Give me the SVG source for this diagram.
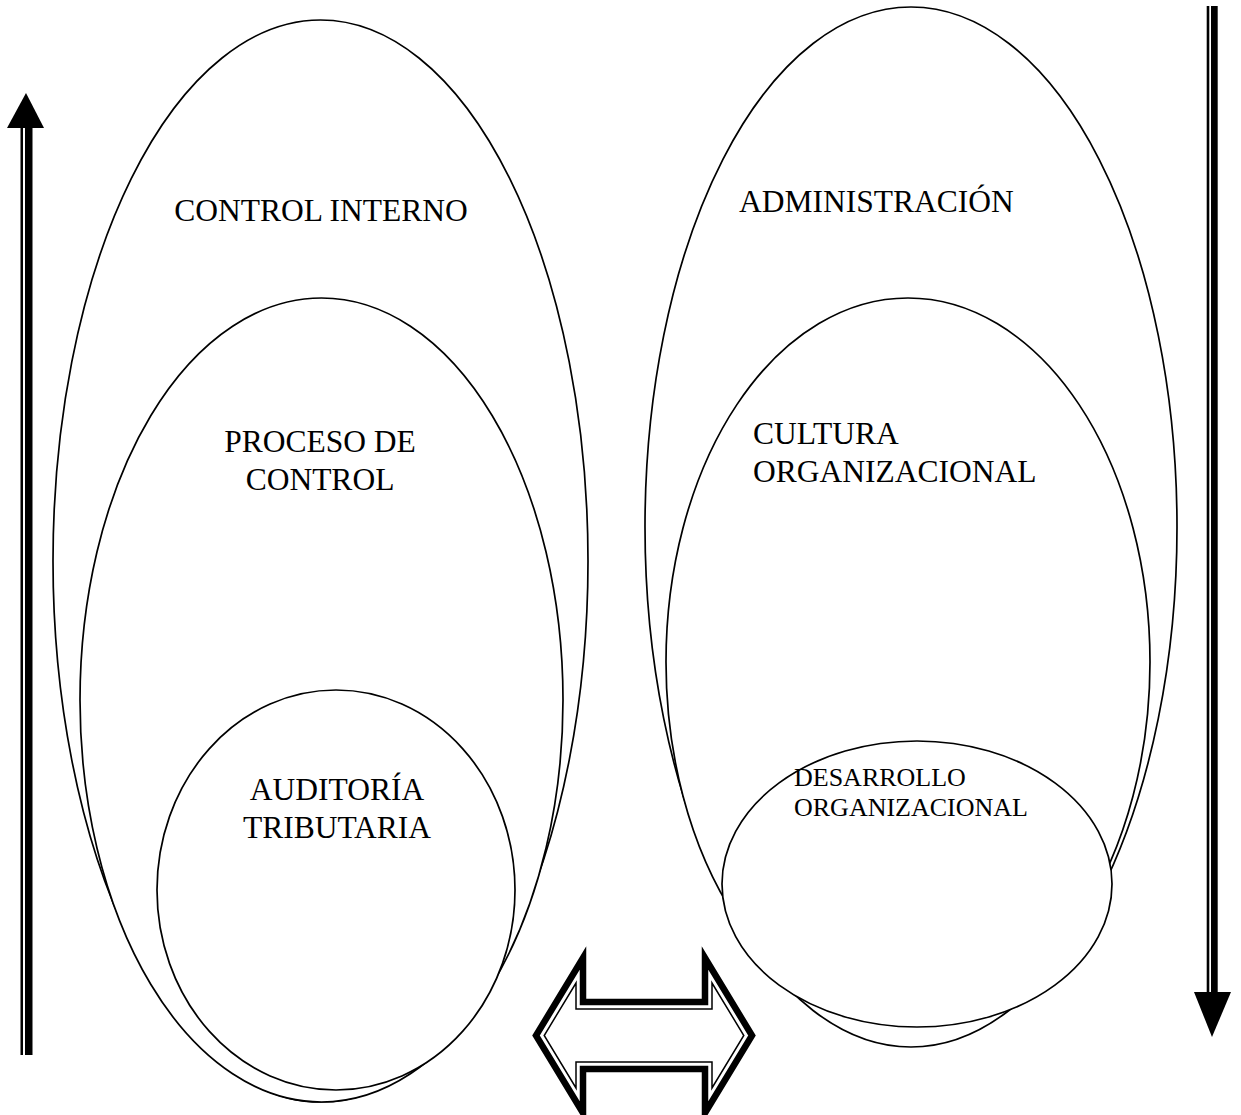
<svg xmlns="http://www.w3.org/2000/svg" width="1241" height="1115" viewBox="0 0 1241 1115">
  <style>
    .shape { fill: #fff; stroke: #000; stroke-width: 1.7; }
    .label { font-family: "Liberation Serif", "Times New Roman", serif; font-size: 31.5px; fill: #000; }
    .small { font-size: 26px; }
    .arrow { fill: #000; }
    .band { fill: none; stroke: #000; stroke-width: 6.5; stroke-linejoin: miter; stroke-miterlimit: 6; }
    .line { fill: none; stroke: #000; stroke-width: 1.5; stroke-linejoin: miter; stroke-miterlimit: 6; }
  </style>
  <rect width="1241" height="1115" fill="#fff"/>

  <!-- left stack: each shape is filled so it hides the outline beneath it -->
  <g id="control-interno">
    <ellipse class="shape" cx="320.5" cy="561" rx="267.5" ry="541"/>
    <text class="label" x="321" y="221" text-anchor="middle">CONTROL INTERNO</text>
  </g>
  <g id="proceso-de-control">
    <ellipse class="shape" cx="321.5" cy="700" rx="241.5" ry="402"/>
    <text class="label" x="320" y="452" text-anchor="middle">PROCESO DE</text>
    <text class="label" x="320" y="490" text-anchor="middle">CONTROL</text>
  </g>
  <g id="auditoria-tributaria">
    <ellipse class="shape" cx="336" cy="890" rx="179" ry="200"/>
    <text class="label" x="337" y="800" text-anchor="middle">AUDITORÍA</text>
    <text class="label" x="337" y="838" text-anchor="middle">TRIBUTARIA</text>
  </g>

  <!-- right stack -->
  <g id="administracion">
    <ellipse class="shape" cx="911" cy="527" rx="266" ry="520"/>
    <text class="label" x="739" y="212">ADMINISTRACIÓN</text>
  </g>
  <g id="cultura-organizacional">
    <ellipse class="shape" cx="908" cy="662" rx="242" ry="364"/>
    <text class="label" x="753" y="444">CULTURA</text>
    <text class="label" x="753" y="482">ORGANIZACIONAL</text>
  </g>
  <g id="desarrollo-organizacional">
    <ellipse class="shape" cx="917" cy="884" rx="195" ry="143"/>
    <text class="label small" x="794" y="786">DESARROLLO</text>
    <text class="label small" x="794" y="816">ORGANIZACIONAL</text>
  </g>

  <!-- connectors -->
  <g id="connectors">
    <!-- upward arrow, left margin -->
    <g id="arrow-up">
      <rect class="arrow" x="20.5" y="126" width="2.5" height="929"/>
      <rect class="arrow" x="25" y="126" width="7.5" height="929"/>
      <polygon class="arrow" points="7,128 26,93 44,128"/>
    </g>
    <!-- downward arrow, right margin -->
    <g id="arrow-down">
      <rect class="arrow" x="1206.7" y="6" width="2.6" height="988"/>
      <rect class="arrow" x="1211" y="6" width="6.7" height="988"/>
      <polygon class="arrow" points="1194,992 1231,992 1212,1037"/>
    </g>
    <!-- two-way outlined arrow between the stacks -->
    <g id="arrow-both">
      <polygon class="band" points="583,958 583,1002 705,1002 705,958 752,1035.5 705,1113 705,1069 583,1069 583,1113 536,1035.5"/>
      <polygon class="line" points="576,983 576,1009 712,1009 712,983 743.8,1035.5 712,1088 712,1062 576,1062 576,1088 544.2,1035.5"/>
    </g>
  </g>
</svg>
